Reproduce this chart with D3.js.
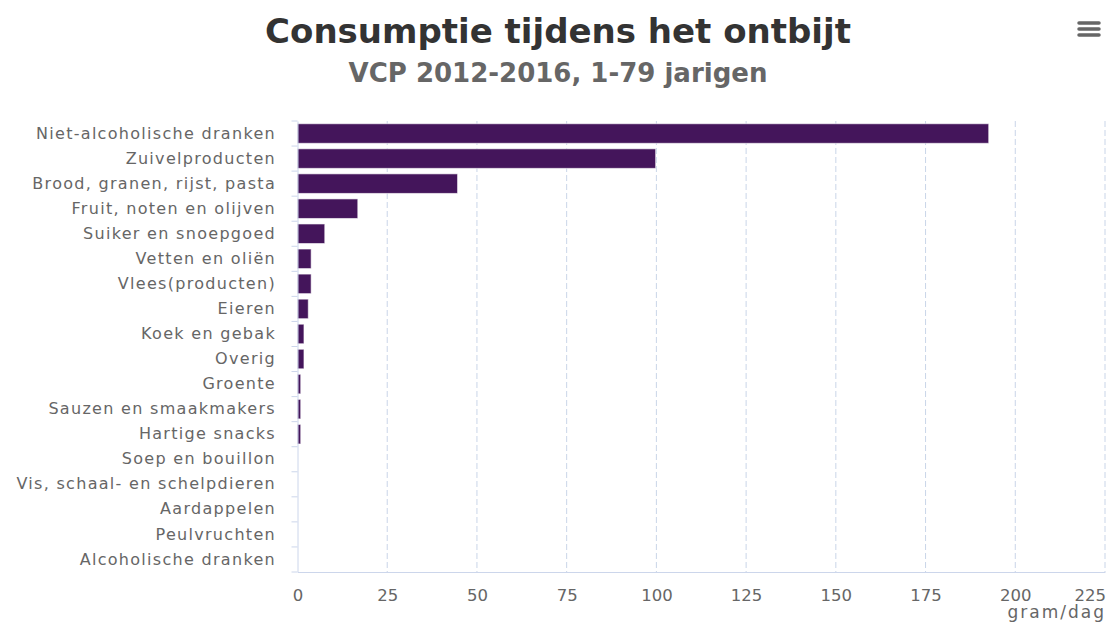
<!DOCTYPE html>
<html>
<head>
<meta charset="utf-8">
<script src="https://cdn.jsdelivr.net/npm/d3@7"></script>
<style>
  html, body { margin: 0; padding: 0; background: #ffffff; }
  svg { display: block; }
  svg text { font-family: "DejaVu Sans", Verdana, sans-serif; }
</style>
</head>
<body>
<svg id="chart" width="1107" height="625"></svg>
<script>
// Breakfast consumption per food group (gram/dag)
const categories = [
  "Niet-alcoholische dranken",
  "Zuivelproducten",
  "Brood, granen, rijst, pasta",
  "Fruit, noten en olijven",
  "Suiker en snoepgoed",
  "Vetten en oliën",
  "Vlees(producten)",
  "Eieren",
  "Koek en gebak",
  "Overig",
  "Groente",
  "Sauzen en smaakmakers",
  "Hartige snacks",
  "Soep en bouillon",
  "Vis, schaal- en schelpdieren",
  "Aardappelen",
  "Peulvruchten",
  "Alcoholische dranken"
];
const values = [192.6, 99.8, 44.6, 16.8, 7.6, 3.8, 3.8, 3.0, 1.8, 1.8, 0.9, 0.9, 0.9, 0, 0, 0, 0, 0];
const xTicks = [0, 25, 50, 75, 100, 125, 150, 175, 200, 225];

const titleText = "Consumptie tijdens het ontbijt";
const subtitleText = "VCP 2012-2016, 1-79 jarigen";
const axisTitle = "gram/dag";

const FONT = '"DejaVu Sans", Verdana, sans-serif';
const svg = d3.select("#chart");
const margin = { left: 297.5, right: 2, top: 121, bottom: 53 };
const W = 1107, H = 625;
const plotW = W - margin.left - margin.right;
const plotH = H - margin.top - margin.bottom;

const x = d3.scaleLinear().domain([0, 225]).range([0, plotW]);
const y = d3.scaleBand().domain(categories).range([0, plotH]).paddingInner(0.22).paddingOuter(0.11);

const g = svg.append("g").attr("transform", `translate(${margin.left},${margin.top})`);

// dashed vertical grid lines
g.append("g").selectAll("line").data(xTicks.filter(d => d > 0)).join("line")
  .attr("x1", d => x(d)).attr("x2", d => x(d))
  .attr("y1", 0).attr("y2", plotH)
  .attr("stroke", "#c9d5e8").attr("stroke-width", 1)
  .attr("stroke-dasharray", "6,3");

// bars
g.append("g").selectAll("rect").data(categories).join("rect")
  .attr("x", 0)
  .attr("y", d => y(d))
  .attr("width", (d, i) => x(values[i]))
  .attr("height", y.bandwidth())
  .attr("fill", "#44155b")
  .attr("stroke", "#ffffff").attr("stroke-width", 1)
  .attr("stroke-opacity", 0.6);

// category axis (left)
const yAxis = d3.axisLeft(y).tickSize(0).tickPadding(21.5);
const ya = g.append("g").call(yAxis)
  .attr("font-family", FONT).attr("font-size", 16).attr("letter-spacing", "1.3px");
ya.select(".domain").attr("stroke", "#ccd6eb");
ya.selectAll("text").attr("fill", "#666666");
// boundary tick marks between categories
const bounds = d3.range(categories.length + 1).map(i => i * plotH / categories.length);
g.append("g").selectAll("line").data(bounds).join("line")
  .attr("x1", -6).attr("x2", 0)
  .attr("y1", d => d).attr("y2", d => d)
  .attr("stroke", "#ccd6eb").attr("stroke-width", 1);

// value axis (bottom)
const xAxis = d3.axisBottom(x).tickValues(xTicks).tickSize(0).tickPadding(17);
const xa = g.append("g").attr("transform", `translate(0,${plotH})`).call(xAxis)
  .attr("font-family", FONT).attr("font-size", 16.5);
xa.select(".domain").attr("stroke", "#ccd6eb");
xa.selectAll("text").attr("fill", "#666666");
// keep the last label inside the chart area
xa.selectAll(".tick").filter(d => d === 225).select("text")
  .attr("text-anchor", "end").attr("x", 0.5);

g.append("text")
  .attr("x", plotW + 1).attr("y", plotH + 46)
  .attr("text-anchor", "end")
  .attr("font-size", 17).attr("letter-spacing", "2px").attr("fill", "#666666")
  .text(axisTitle);

// titles
svg.append("text")
  .attr("x", 558).attr("y", 43)
  .attr("text-anchor", "middle")
  .attr("font-size", 34).attr("font-weight", "bold").attr("fill", "#333333")
  .text(titleText);
svg.append("text")
  .attr("x", 558).attr("y", 82)
  .attr("text-anchor", "middle")
  .attr("font-size", 26).attr("font-weight", "bold").attr("fill", "#666666")
  .text(subtitleText);

// context menu icon
const menu = svg.append("g").attr("transform", "translate(1078,22)");
[0, 6, 12].forEach(dy => menu.append("line")
  .attr("x1", 1).attr("x2", 21).attr("y1", dy + 1).attr("y2", dy + 1)
  .attr("stroke", "#666666").attr("stroke-width", 3.5).attr("stroke-linecap", "round"));
</script>
</body>
</html>
